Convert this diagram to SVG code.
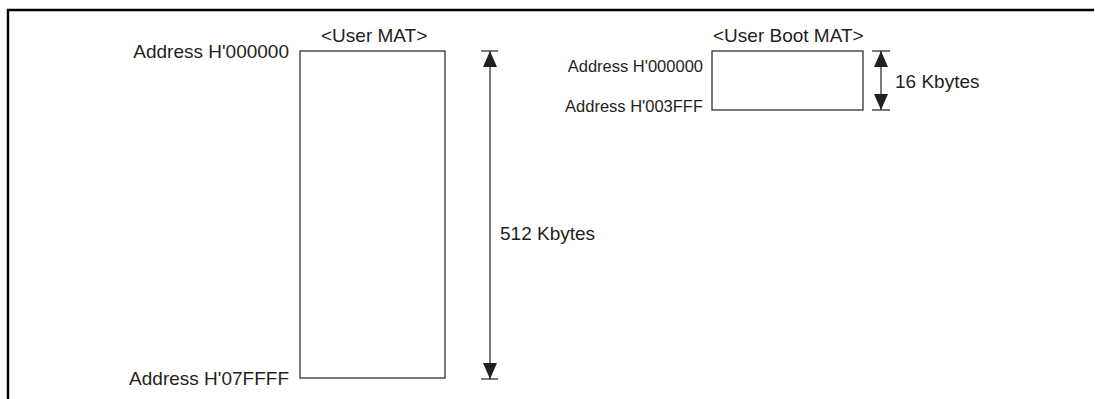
<svg xmlns="http://www.w3.org/2000/svg" width="1095" height="399" viewBox="0 0 1095 399">
<style>
.t{font-family:"Liberation Sans",Arial,sans-serif;font-size:19px;fill:#231f20}
.s{font-family:"Liberation Sans",Arial,sans-serif;font-size:16.5px;fill:#231f20}
.box{fill:#fff;stroke:#231f20;stroke-width:1.2}
.ln{stroke:#231f20;stroke-width:1.2;fill:none}
</style>
<defs>
<marker id="ah" viewBox="0 0 16 14" refX="16" refY="7" markerWidth="16" markerHeight="14" markerUnits="userSpaceOnUse" orient="auto-start-reverse">
<path d="M0,0 L16,7 L0,14 Z" fill="#231f20"/>
</marker>
</defs>
<rect width="1095" height="399" fill="#fff"/>
<g id="frame">
<path d="M8,399 V10 H1094" fill="none" stroke="#000" stroke-width="2.4"/>
</g>
<g id="user-mat">
<text class="t" x="321" y="42">&lt;User MAT&gt;</text>
<rect class="box" x="300" y="51" width="145" height="327"/>
<text class="t" x="289" y="58" text-anchor="end">Address H'000000</text>
<text class="t" x="289" y="385" text-anchor="end">Address H'07FFFF</text>
</g>
<g id="user-boot-mat">
<text class="t" x="713" y="42">&lt;User Boot MAT&gt;</text>
<rect class="box" x="712" y="51" width="151" height="59"/>
<text class="s" x="703" y="72" text-anchor="end">Address H'000000</text>
<text class="s" x="703" y="112" text-anchor="end">Address H'003FFF</text>
</g>
<g id="connectors">
<line class="ln" x1="481" y1="51" x2="498" y2="51"/>
<line class="ln" x1="481" y1="379" x2="498" y2="379"/>
<line class="ln" x1="490" y1="51" x2="490" y2="379" marker-start="url(#ah)" marker-end="url(#ah)"/>
<text class="t" x="500" y="240">512 Kbytes</text>
<line class="ln" x1="872" y1="51" x2="890" y2="51"/>
<line class="ln" x1="872" y1="110" x2="890" y2="110"/>
<line class="ln" x1="881" y1="51" x2="881" y2="110" marker-start="url(#ah)" marker-end="url(#ah)"/>
<text class="t" x="895" y="88">16 Kbytes</text>
</g>
</svg>
